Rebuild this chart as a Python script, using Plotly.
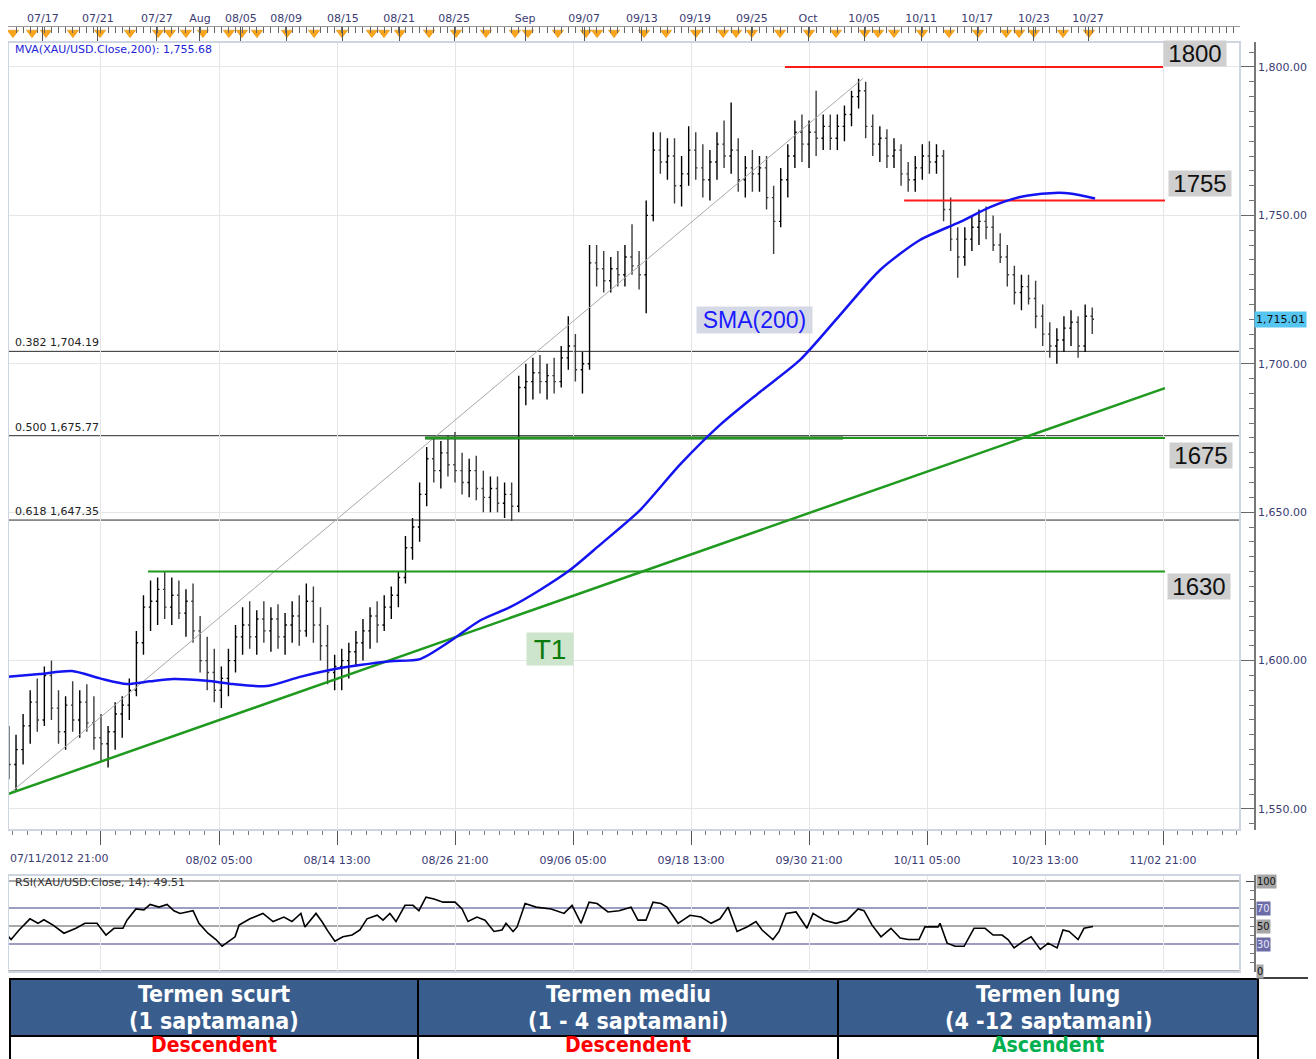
import plotly.graph_objects as go

W, H = 1316, 1059
OFF = 8  # browser body margin
FW, FH = W - OFF, H - OFF

# ---------------- data (4h-bar index on x, price on y) ----------------
opens = [1572,1565,1570,1578,1586,1580,1595,1584,1576,1585, 1580,1586,1579,1574,1572,1576,1582,1585,1590,1606,
         1618,1620,1624,1618,1622,1616,1620,1610,1600,1596, 1590,1594,1600,1608,1612,1608,1614,1610,1614,1608,
         1612,1615,1610,1620,1612,1605,1596,1598,1600,1603, 1606,1610,1615,1612,1618,1622,1628,1638,1645,1656,
         1668,1664,1670,1666,1664,1660,1664,1658,1655,1658, 1653,1656,1652,1692,1694,1697,1694,1696,1694,1702,
         1706,1698,1700,1734,1732,1728,1732,1730,1736,1733, 1730,1750,1772,1768,1770,1760,1764,1772,1766,1762,
         1768,1774,1770,1772,1762,1766,1764,1766,1756,1748, 1762,1770,1778,1774,1778,1776,1780,1776,1780,1784,
         1790,1792,1780,1774,1776,1770,1772,1764,1762,1766, 1770,1768,1770,1752,1742,1736,1742,1746,1748,1746,
         1740,1736,1730,1724,1726,1722,1716,1710,1706,1708, 1712,1714,1706,1716]
highs = [1578,1575,1582,1590,1594,1598,1600,1590,1588,1593, 1590,1592,1588,1582,1578,1586,1588,1594,1610,1622,
         1627,1628,1630,1628,1627,1624,1626,1615,1608,1604, 1598,1604,1612,1618,1620,1617,1620,1618,1619,1616,
         1620,1622,1626,1625,1618,1612,1602,1604,1606,1610, 1614,1618,1620,1622,1625,1630,1642,1648,1660,1672,
         1675,1674,1676,1677,1670,1668,1669,1664,1662,1662, 1660,1660,1696,1700,1702,1703,1700,1702,1706,1716,
         1710,1704,1740,1740,1738,1736,1738,1740,1747,1738, 1755,1778,1778,1776,1776,1770,1780,1778,1774,1772,
         1778,1782,1788,1776,1770,1772,1770,1770,1760,1766, 1774,1782,1784,1782,1792,1784,1784,1784,1787,1792,
         1796,1795,1784,1780,1779,1776,1774,1768,1770,1774, 1775,1774,1772,1756,1746,1746,1750,1752,1753,1750,
         1744,1740,1733,1730,1730,1728,1720,1714,1712,1716, 1718,1716,1720,1719]
lows = [1560,1556,1565,1572,1576,1578,1580,1572,1570,1576, 1574,1576,1570,1566,1564,1570,1574,1580,1588,1602,
        1610,1612,1614,1612,1614,1608,1606,1596,1590,1586, 1584,1588,1596,1602,1604,1602,1606,1603,1604,1602,
        1606,1605,1608,1606,1600,1592,1590,1590,1594,1598, 1600,1604,1606,1610,1614,1618,1626,1634,1640,1652,
        1660,1658,1662,1660,1656,1655,1654,1650,1650,1650, 1648,1647,1650,1686,1688,1690,1688,1690,1692,1698,
        1694,1690,1698,1726,1724,1724,1726,1726,1730,1725, 1717,1748,1764,1762,1754,1753,1760,1762,1756,1755,
        1762,1766,1764,1758,1756,1758,1758,1752,1737,1746, 1756,1766,1768,1766,1770,1772,1772,1772,1775,1780,
        1786,1776,1770,1768,1766,1766,1760,1758,1758,1762, 1764,1764,1748,1738,1729,1733,1738,1740,1742,1738,
        1734,1726,1720,1718,1720,1712,1706,1702,1700,1704, 1706,1702,1704,1710]
closes = [1565,1570,1578,1586,1580,1595,1584,1576,1585,1580, 1586,1579,1574,1572,1576,1582,1585,1590,1606,1618,
          1620,1624,1618,1622,1616,1620,1610,1600,1596,1590, 1594,1600,1608,1612,1608,1614,1610,1614,1608,1612,
          1615,1610,1620,1612,1605,1596,1598,1600,1603,1606, 1610,1615,1612,1618,1622,1628,1638,1645,1656,1668,
          1664,1670,1666,1664,1660,1664,1658,1655,1658,1653, 1656,1652,1692,1694,1697,1694,1696,1694,1702,1706,
          1698,1700,1734,1732,1728,1732,1730,1736,1733,1730, 1750,1772,1768,1770,1760,1764,1772,1766,1762,1768,
          1774,1770,1772,1762,1766,1764,1766,1756,1748,1762, 1770,1778,1774,1778,1776,1780,1776,1780,1784,1790,
          1792,1780,1774,1776,1770,1772,1764,1762,1766,1770, 1768,1770,1752,1742,1736,1742,1746,1748,1746,1740,
          1736,1730,1724,1726,1722,1716,1710,1706,1708,1712, 1714,1706,1716,1715.01]
bar_x = [1 + 3 * i for i in range(len(closes))]

sma_bar = [0.2, 14.1, 27.7, 39.6, 51, 60.8, 70.5, 84.9, 95.9, 110.3, 124.3, 137, 149.7, 162.5, 175.2,
           187.9, 200.6, 213.3, 226, 238.7, 251.4, 268.4, 285.3, 302.3, 319.2, 336.2, 353.1, 370.1, 387,
           404, 416.7, 429.4, 442.1, 450.6, 461.2]
sma_val = [1594.5, 1595.5, 1596.5, 1594, 1592.1, 1593, 1593.8, 1593.2, 1592.1, 1591.4, 1594.5, 1596.8,
           1598.5, 1599.8, 1600.5, 1606.5, 1613.5, 1618, 1623.8, 1630.5, 1639, 1650.7, 1666, 1679.4,
           1690.5, 1701.3, 1716.4, 1731.6, 1741.7, 1747.8, 1752.8, 1756.2, 1757.5, 1757.4, 1755.68]

rsi_bar = [0.2,1.9,5.3,9.9,13.3,15.8,19.7,24.3,29.4,33.2,38.3,42.1,45.5,49.3,51,54.8,58.2,60.8,64.6,68,
           70.9,73.5,79,81.5,85.3,88.7,91.3,95.1,96.8,98.5,103.1,108.6,112.9,117.5,120.9,124.7,126.4,131.1,
           133.6,136.2,139.1,142.5,146.4,149.7,152.7,157,159.5,162.4,165,168.8,172.2,174.7,177.7,181.1,
           184.9,190,193,195.5,199.3,202.7,206.5,209.9,211.6,214.6,216.3,219.7,224.3,230.7,236.2,239.6,
           243.4,246.8,250.2,254.8,259.5,264.6,267.5,270.9,273.9,277.3,279.8,284.5,289.6,294.2,298.5,
           302.3,305.7,309.5,313.7,317.5,320.1,324.7,327.3,330.3,334.5,339.1,341.7,346.4,351.4,356.1,
           360.8,363.3,366.7,370.5,374.7,378.6,382,386.6,389.1,394.7,395.5,398.5,401.9,405.7,409.9,414.6,
           418,421.8,424.3,426.9,430.7,434.1,438,441.3,445.1,447.6,450.2,454,456.5,460.3]
rsi_val = [40,35,45.6,58,53,57,51,42,47.5,53,53,40,47.5,47.5,56.5,69,68,74,71,74,
           67,64,67,53,42,35,27.5,35,38,51,58,64,55,60,55,64,49,64,
           55,44,33,38,40,45.6,58,62,56.5,64,55,73,73,67,82,80,
           76.5,76.5,69,55,60,56.5,44,45.6,53,44,49,75,71,69,64,73,
           53,76.5,75,65.6,67,71,56.5,56.5,76.5,75,71,53,62,60,53,
           58,71,44,49,55,45.6,35,44,64,65.6,47.5,64,56.5,53,56.5,
           69,67,51,38,47.5,36.6,35,35,49,49,53,31,27.5,27.5,47.5,47.5,
           40,40,35,25.7,33,38,24,31,25.7,45.6,44,35,47.5,49.51]

fib_ratios = ["0.382", "0.500", "0.618"]
fib_levels = [1704.19, 1675.77, 1647.35]
fib_anchor_bar = [1.4, 362.9]
fib_anchor_price = [1555.34, 1796.19]

t1_bar = [0.6, 490.8]
t1_price = [1555.0, 1691.8]

level_prices = [1800, 1755, 1675, 1630]
level_start_bar = [329.8, 380.3, 177.3, 59.9]
level_end_bar = [490.0, 490.8, 490.8, 490.8]
level_colors = ["#ff1a1a", "#ff1a1a", "#1f9a1f", "#1f9a1f"]
level_labels = ["1800", "1755", "1675", "1630"]
dark_1675_end_bar = 354.4

grid_bar = [40, 90, 140, 190, 240, 290, 340, 390, 440, 490]
grid_text = ["", "08/02 05:00", "08/14 13:00", "08/26 21:00", "09/06 05:00", "09/18 13:00",
             "09/30 21:00", "10/11 05:00", "10/23 13:00", "11/02 21:00"]
first_label = "07/11/2012 21:00"

top_tick_bar = [15.4, 38.7, 63.7, 81.9, 99.3, 118.4, 142.5, 166.3, 189.6, 219.7, 244.7, 269.2,
                291.7, 315.8, 339.6, 363.3, 387.5, 411.2, 435.3, 458.2]
top_tick_text = ["07/17", "07/21", "07/27", "Aug", "08/05", "08/09", "08/15", "08/21", "08/25", "Sep",
                 "09/07", "09/13", "09/19", "09/25", "Oct", "10/05", "10/11", "10/17", "10/23", "10/27"]
event_bar = [2.7, 10.8, 16.7, 28.1, 39.6, 52.3, 64.2, 69.2, 76, 83.2, 94.2, 99.7, 106.1, 118.8, 130.3,
             142.1, 154.8, 159.9, 166.7, 179, 190.4, 203.1, 215.4, 220.9, 233.6, 245.5, 250.2, 257.4,
             270.1, 279.4, 292.1, 303.6, 309.1, 315.8, 327.7, 340, 351.4, 363.7, 369.2, 376, 387.9,
             399.3, 411.6, 423.5, 429, 435.3, 447.6, 458.6]

price_ticks = [1550, 1600, 1650, 1700, 1750, 1800]
rsi_levels = [100, 70, 50, 30, 0]
rsi_level_blue = [False, True, False, True, False]
sma_label = "MVA(XAU/USD.Close,200): 1,755.68"
rsi_label = "RSI(XAU/USD.Close, 14): 49.51"
last_price = 1715.01

table_head_1 = ["Termen scurt", "Termen mediu", "Termen lung"]
table_head_2 = ["(1 saptamana)", "(1 - 4 saptamani)", "(4 -12 saptamani)"]
table_trend = ["Descendent", "Descendent", "Ascendent"]
table_trend_colors = ["#ff0000", "#ff0000", "#00b050"]

# ---------------- layout helpers (reference pixels -> paper) ----------------
def px_x(p):
    return (p - OFF) / FW

def px_y(p):
    return 1 - (p - OFF) / FH

X_DOM = [px_x(8), px_x(1240)]
X_RANGE = [0.6, 522.6]
AXIS_POS = px_x(1255)
LABEL_FONT = dict(family="DejaVu Sans", size=11, color="#3b3b73")

fig = go.Figure()

fig.add_trace(go.Ohlc(
    x=bar_x, open=opens, high=highs, low=lows, close=closes,
    increasing=dict(line=dict(color="#000000", width=1.4)),
    decreasing=dict(line=dict(color="#3c3c3c", width=1.4)),
    tickwidth=0.25, xaxis="x", yaxis="y", hoverinfo="skip", showlegend=False))

fig.add_trace(go.Scatter(x=fib_anchor_bar, y=fib_anchor_price, mode="lines",
                         line=dict(color="#a8a8a8", width=1), xaxis="x", yaxis="y", showlegend=False))

fig.add_trace(go.Scatter(x=t1_bar, y=t1_price, mode="lines",
                         line=dict(color="#1f9a1f", width=2.5), xaxis="x", yaxis="y", showlegend=False))

fig.add_trace(go.Scatter(x=[level_start_bar[2], dark_1675_end_bar], y=[level_prices[2]] * 2, mode="lines",
                         line=dict(color="#0f5c0f", width=3), xaxis="x", yaxis="y", showlegend=False))
for p, s, e, c in zip(level_prices, level_start_bar, level_end_bar, level_colors):
    fig.add_trace(go.Scatter(x=[s, e], y=[p, p], mode="lines", line=dict(color=c, width=2),
                             xaxis="x", yaxis="y", showlegend=False))

fig.add_trace(go.Scatter(x=sma_bar, y=sma_val, mode="lines",
                         line=dict(color="#1414f0", width=2.5, shape="spline", smoothing=0.7),
                         xaxis="x", yaxis="y", showlegend=False))

fig.add_trace(go.Scatter(x=rsi_bar, y=rsi_val, mode="lines", line=dict(color="#000000", width=1.6),
                         xaxis="x2", yaxis="y2", showlegend=False))

fig.add_trace(go.Scatter(x=event_bar, y=[0.62] * len(event_bar), mode="markers",
                         marker=dict(symbol="triangle-down", size=10, color="#f8a51c",
                                     line=dict(color="#e08a00", width=0.5)),
                         xaxis="x3", yaxis="y3", showlegend=False))

shapes = []
# fib levels
for lv in fib_levels:
    shapes.append(dict(type="line", xref="x domain", yref="y", x0=0, x1=1, y0=lv, y1=lv,
                       line=dict(color="#2a2a2a", width=1), layer="below"))
# rsi levels
for lv, blue in zip(rsi_levels, rsi_level_blue):
    shapes.append(dict(type="line", xref="x2 domain", yref="y2", x0=0, x1=1, y0=lv, y1=lv,
                       line=dict(color="#7c7cae" if blue else "#8c8c8c", width=1.5), layer="below"))
# panel frames
shapes.append(dict(type="rect", xref="x domain", yref="y domain", x0=0, x1=1, y0=0, y1=1,
                   line=dict(color="#cdd5e0", width=2), layer="above"))
shapes.append(dict(type="rect", xref="x2 domain", yref="y2 domain", x0=0, x1=1, y0=0, y1=1,
                   line=dict(color="#cdd5e0", width=2), layer="above"))
# table
tab_x = [10, 418, 838, 1258]
shapes.append(dict(type="rect", xref="paper", yref="paper", x0=px_x(10), x1=px_x(1258),
                   y0=px_y(1036), y1=px_y(979), fillcolor="#395e8e", line=dict(color="#000", width=2)))
shapes.append(dict(type="rect", xref="paper", yref="paper", x0=px_x(10), x1=px_x(1258),
                   y0=px_y(1070), y1=px_y(1036), fillcolor="#ffffff", line=dict(color="#000", width=2)))
for xx in tab_x[1:-1]:
    shapes.append(dict(type="line", xref="paper", yref="paper", x0=px_x(xx), x1=px_x(xx),
                       y0=px_y(1070), y1=px_y(979), line=dict(color="#000", width=2)))
shapes.append(dict(type="line", xref="paper", yref="paper", x0=px_x(1258), x1=1,
                   y0=px_y(978), y1=px_y(978), line=dict(color="#000", width=1.5)))

ann = []
ann.append(dict(xref="paper", yref="paper", x=px_x(13), y=px_y(49), text=sma_label, showarrow=False,
                xanchor="left", yanchor="middle", font=dict(family="DejaVu Sans", size=11, color="#2323d8")))
ann.append(dict(xref="paper", yref="paper", x=px_x(13), y=px_y(883), text=rsi_label, showarrow=False,
                xanchor="left", yanchor="middle", font=dict(family="DejaVu Sans", size=11, color="#333")))
ann.append(dict(xref="paper", yref="paper", x=px_x(8), y=px_y(858), text=first_label, showarrow=False,
                xanchor="left", yanchor="middle", font=LABEL_FONT))
for r, lv in zip(fib_ratios, fib_levels):
    ann.append(dict(xref="paper", yref="y", x=px_x(13), y=lv, text=f"{r} {lv:,.2f}", showarrow=False,
                    xanchor="left", yanchor="bottom", yshift=0,
                    font=dict(family="DejaVu Sans", size=11, color="#222")))
# level label boxes
box_pos = [(1195, 53), (1200, 183), (1201, 456), (1199, 586)]
for lab, (bx, by) in zip(level_labels, box_pos):
    ann.append(dict(xref="paper", yref="paper", x=px_x(bx), y=px_y(by), text=lab, showarrow=False,
                    xanchor="center", yanchor="middle", width=62, height=25, bgcolor="#cfcfcf",
                    borderpad=0, font=dict(family="Liberation Sans", size=24, color="#111")))
ann.append(dict(xref="paper", yref="paper", x=px_x(754), y=px_y(320), text="SMA(200)", showarrow=False,
                xanchor="center", yanchor="middle", width=115, height=26, bgcolor="#d5d9e6",
                borderpad=0, font=dict(family="Liberation Sans", size=23, color="#1a1aff")))
ann.append(dict(xref="paper", yref="paper", x=px_x(550), y=px_y(649), text="T1", showarrow=False,
                xanchor="center", yanchor="middle", width=46, height=32, bgcolor="#cde5cd",
                borderpad=0, font=dict(family="Liberation Sans", size=28, color="#0a7a0a")))
ann.append(dict(xref="paper", yref="y", x=px_x(1254), y=last_price, text=f"{last_price:,.2f}",
                showarrow=False, xanchor="left", yanchor="middle", bgcolor="#55c6f2", borderpad=1,
                font=dict(family="DejaVu Sans", size=11, color="#111")))
# rsi labels
for lv, blue in zip(rsi_levels, rsi_level_blue):
    ann.append(dict(xref="paper", yref="y2", x=px_x(1256), y=lv, text=str(lv), showarrow=False,
                    xanchor="left", yanchor="middle", bgcolor="#6c6ca6" if blue else "#a6a6a6",
                    borderpad=0, font=dict(family="DejaVu Sans Condensed", size=11,
                                           color="#e8e8ff" if blue else "#111")))
# table text
centers = [(tab_x[i] + tab_x[i + 1]) / 2 for i in range(3)]
TFONT = "Liberation Sans Narrow, DejaVu Sans Condensed, Arial Narrow, sans-serif"
for cx, h1, h2, tr, tc in zip(centers, table_head_1, table_head_2, table_trend, table_trend_colors):
    ann.append(dict(xref="paper", yref="paper", x=px_x(cx), y=px_y(994), text=f"<b>{h1}</b>",
                    showarrow=False, xanchor="center", yanchor="middle",
                    font=dict(family=TFONT, size=23, color="#ffffff")))
    ann.append(dict(xref="paper", yref="paper", x=px_x(cx), y=px_y(1021), text=f"<b>{h2}</b>",
                    showarrow=False, xanchor="center", yanchor="middle",
                    font=dict(family=TFONT, size=23, color="#ffffff")))
    ann.append(dict(xref="paper", yref="paper", x=px_x(cx), y=px_y(1045), text=f"<b>{tr}</b>",
                    showarrow=False, xanchor="center", yanchor="middle",
                    font=dict(family=TFONT, size=21, color=tc)))

fig.update_layout(
    width=FW, height=FH, margin=dict(l=0, r=0, t=0, b=0),
    paper_bgcolor="#ffffff", plot_bgcolor="#ffffff", showlegend=False,
    xaxis=dict(domain=X_DOM, range=X_RANGE, anchor="y", tickmode="array", tickvals=grid_bar,
               ticktext=grid_text, showgrid=True, gridcolor="#e6e6e6", gridwidth=1,
               ticks="outside", ticklen=14, tickcolor="#555", tickfont=LABEL_FONT,
               ticklabelstandoff=6, zeroline=False, showline=False, rangeslider=dict(visible=False),
               minor=dict(tickmode="linear", tick0=40, dtick=6.25, ticks="outside", ticklen=4,
                          tickcolor="#777", showgrid=False)),
    yaxis=dict(domain=[px_y(830), px_y(42)], range=[1542.92, 1808.42], anchor="free",
               position=AXIS_POS, side="right", tickmode="array", tickvals=price_ticks,
               ticktext=[f"{v:,.2f}" for v in price_ticks], ticks="inside", ticklen=14,
               tickcolor="#666", showline=True, linecolor="#777", linewidth=1.5,
               showgrid=True, gridcolor="#e6e6e6", zeroline=False, tickfont=LABEL_FONT,
               minor=dict(tickmode="linear", tick0=1550, dtick=5, ticks="inside", ticklen=5,
                          tickcolor="#777", showgrid=False)),
    xaxis2=dict(domain=X_DOM, range=X_RANGE, anchor="y2", matches="x", tickmode="array",
                tickvals=grid_bar, showticklabels=False, showgrid=True, gridcolor="#e6e6e6",
                ticks="", zeroline=False),
    yaxis2=dict(domain=[px_y(972), px_y(875)], range=[-1.1, 106.7], anchor="free", position=AXIS_POS,
                side="right", tickmode="array", tickvals=[0, 100], ticks="inside", ticklen=8,
                showticklabels=False, showgrid=False, zeroline=False, showline=True,
                linecolor="#777", linewidth=1.5,
                minor=dict(tickmode="linear", tick0=0, dtick=10, ticks="inside", ticklen=4,
                           tickcolor="#777")),
    xaxis3=dict(domain=X_DOM, range=X_RANGE, anchor="y3", matches="x", side="top", tickmode="array",
                tickvals=top_tick_bar, ticktext=top_tick_text, ticks="inside", ticklen=14,
                tickcolor="#555", tickfont=LABEL_FONT, showgrid=False, zeroline=False,
                showline=True, linecolor="#999",
                minor=dict(tickmode="linear", tick0=1, dtick=3, ticks="inside", ticklen=6,
                           tickcolor="#666")),
    yaxis3=dict(domain=[px_y(42), px_y(27)], range=[0, 1], visible=False, fixedrange=True),
    shapes=shapes, annotations=ann,
)

fig.write_html("out.html")
